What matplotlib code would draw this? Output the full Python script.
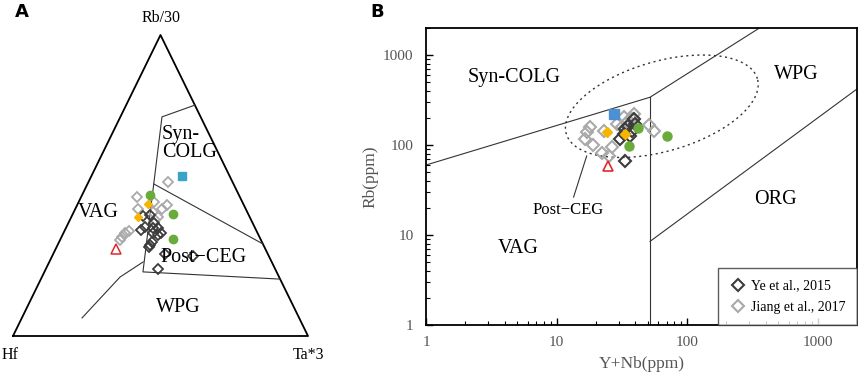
import numpy as np
import matplotlib.pyplot as plt
from matplotlib.lines import Line2D

plt.rcParams['font.family'] = ['Liberation Serif', 'DejaVu Serif']

# ---- panel A: Rb/30 - Hf - Ta*3 (percent) ----
ye_A_rb = [39.9, 40.2, 35.2, 36.2, 35.9, 35.9, 34.2, 33.6, 31.2, 30.2, 29.6, 27.2, 26.6, 22.3, 37.5, 34.2]
ye_A_ta = [24.2, 26.3, 25.8, 26.6, 29.6, 31.3, 30.4, 32.4, 31.5, 31.3, 31.3, 37.9, 47.7, 38.1, 29.0, 33.1]
ye_A_hf = [35.9, 33.5, 39.0, 37.2, 34.5, 32.8, 35.4, 34.0, 37.3, 38.5, 39.1, 34.9, 25.7, 39.6, 33.5, 32.7]

jiang_A_rb = [51.2, 46.2, 44.5, 43.5, 42.2, 42.2, 41.2, 39.5, 38.5, 34.9, 34.2, 32.9, 31.9]
jiang_A_ta = [26.9, 18.9, 25.5, 30.4, 29.4, 21.3, 26.9, 29.4, 28.8, 21.9, 20.9, 20.5, 20.4]
jiang_A_hf = [21.9, 34.9, 30.0, 26.1, 28.4, 36.5, 31.9, 31.1, 32.7, 43.2, 44.9, 46.6, 47.7]

green_A_rb = [46.8, 40.5, 32.2]
green_A_ta = [23.0, 33.9, 38.1]
green_A_hf = [30.2, 25.6, 29.7]

yellow_A_rb = [43.9, 39.5]
yellow_A_ta = [23.9, 22.6]
yellow_A_hf = [32.2, 37.9]

blue_A_rb, blue_A_ta, blue_A_hf = [53.2], [30.7], [16.1]
red_A_rb, red_A_ta, red_A_hf = [28.9], [20.4], [50.7]

# field boundaries (Rb, Ta, Hf)
bound_A = [
    [(76.7, 23.3, 0.0), (72.8, 14.1, 13.1), (21.3, 33.4, 45.3), (18.9, 81.1, 0.0)],
    [(50.5, 22.5, 27.0), (30.6, 69.4, 0.0)],
    [(6.0, 20.4, 73.6), (19.6, 26.5, 53.9), (24.6, 31.8, 43.6)],
]

# ---- panel B: Rb vs Y+Nb (ppm) ----
ye_B_x = [33.3, 30.5, 36.4, 39.8, 37.8, 32.7, 35.0, 39.0, 33.3]
ye_B_y = [151, 117, 126, 171, 143, 133, 163, 194, 66]

jiang_B_x = [17.9, 17.0, 16.4, 18.9, 23.0, 22.2, 26.5, 25.1, 51.0, 55.7, 32.7, 39.1, 34.5, 28.9, 37.8, 31.5]
jiang_B_y = [158, 139, 117, 100, 143, 81.5, 95, 75.5, 167, 143, 205, 221, 180, 171, 194, 158]

green_B_x, green_B_y = [42.0, 35.8, 70.0], [154, 97.5, 126]
yellow_B_x, yellow_B_y = [24.3, 33.3], [139, 133]
blue_B_x, blue_B_y = [27.4], [221]
red_B_x, red_B_y = [24.7], [58.4]

bound_B = [
    [(1, 60), (52, 340), (358, 2000)],
    [(52, 1), (52, 340)],
    [(52, 8.5), (2000, 420)],
]

DARK = '#3c3c3c'
LIGHT = '#a9a9a9'
GREEN = '#6aac3c'
YELLOW = '#f7b500'
RED = '#e02830'
GREY_TXT = '#555555'


def tern(rb, ta, hf):
    rb, ta, hf = np.asarray(rb, float), np.asarray(ta, float), np.asarray(hf, float)
    s = rb + ta + hf
    a, b = rb / s, ta / s
    return b + a / 2, a


fig = plt.figure(figsize=(8.58, 3.76), dpi=100)

# ---------------- A ----------------
axA = fig.add_axes([13 / 858, 40 / 376, 295 / 858, 301 / 376])
axA.set_xlim(0, 1)
axA.set_ylim(0, 1)
axA.axis('off')
axA.plot([0, 1, 0.5, 0], [0, 0, 1, 0], color='black', lw=1.3, clip_on=False)
for seg in bound_A:
    rb, ta, hf = zip(*seg)
    x, y = tern(rb, ta, hf)
    axA.plot(x, y, color='#333333', lw=0.8)

fs_lab = 14.5
axA.text(0.503, 1.057, 'Rb/30', ha='center', va='center', fontsize=11.5)
axA.text(-0.01, -0.063, 'Hf', ha='center', va='center', fontsize=11.5)
axA.text(1.0, -0.063, 'Ta*3', ha='center', va='center', fontsize=11.5)
axA.text(0.505, 0.64, 'Syn-\nCOLG', ha='left', va='center', fontsize=fs_lab, linespacing=0.95)
axA.text(0.29, 0.41, 'VAG', ha='center', va='center', fontsize=fs_lab)
axA.text(0.645, 0.26, 'Post\u2212CEG', ha='center', va='center', fontsize=fs_lab)
axA.text(0.56, 0.095, 'WPG', ha='center', va='center', fontsize=fs_lab)

ms = 5.2
x, y = tern(jiang_A_rb, jiang_A_ta, jiang_A_hf)
axA.plot(x, y, 'D', ms=ms, mfc='none', mec=LIGHT, mew=1.3, ls='none')
x, y = tern(ye_A_rb, ye_A_ta, ye_A_hf)
axA.plot(x, y, 'D', ms=ms, mfc='none', mec=DARK, mew=1.3, ls='none')
x, y = tern(green_A_rb, green_A_ta, green_A_hf)
axA.plot(x, y, 'o', ms=6, color=GREEN, ls='none')
x, y = tern(yellow_A_rb, yellow_A_ta, yellow_A_hf)
axA.plot(x, y, 'D', ms=4.5, color=YELLOW, ls='none')
x, y = tern(blue_A_rb, blue_A_ta, blue_A_hf)
axA.plot(x, y, 's', ms=6, color='#3aa3c8', ls='none')
x, y = tern(red_A_rb, red_A_ta, red_A_hf)
axA.plot(x, y, '^', ms=7, mfc='none', mec=RED, mew=1.1, ls='none')

fig.text(15 / 858, 1 - 12 / 376, 'A', fontsize=13, fontweight='bold',
         family='DejaVu Sans', ha='left', va='center')

# ---------------- B ----------------
axB = fig.add_axes([426 / 858, 51 / 376, 431 / 858, 297 / 376])
axB.set_xscale('log')
axB.set_yscale('log')
axB.set_xlim(1, 2000)
axB.set_ylim(1, 2000)

for seg in bound_B:
    xs, ys = zip(*seg)
    axB.plot(xs, ys, color='#333333', lw=0.8)

# post-collisional field (dashed ellipse in log space)
t = np.linspace(0, 2 * np.pi, 300)
cx, cy = np.log10(64), np.log10(270)
ex = cx + 0.732 * np.cos(t) - 0.096 * np.sin(t)
ey = cy + 0.306 * np.cos(t) + 0.480 * np.sin(t)
axB.plot(10 ** ex, 10 ** ey, color='#333333', lw=1.0, ls=(0, (1.5, 2.5)))

axB.plot(jiang_B_x, jiang_B_y, 'D', ms=6.5, mfc='none', mec=LIGHT, mew=1.5, ls='none')
axB.plot(ye_B_x, ye_B_y, 'D', ms=6.5, mfc='none', mec=DARK, mew=1.5, ls='none')
axB.plot(green_B_x, green_B_y, 'o', ms=6.5, color=GREEN, ls='none')
axB.plot(yellow_B_x, yellow_B_y, 'D', ms=5, color=YELLOW, ls='none')
axB.plot(blue_B_x, blue_B_y, 's', ms=6.5, color='#4b90d2', ls='none')
axB.plot(red_B_x, red_B_y, '^', ms=7.5, mfc='none', mec=RED, mew=1.2, ls='none')

axB.text(4.75, 570, 'Syn-COLG', ha='center', va='center', fontsize=fs_lab)
axB.text(680, 610, 'WPG', ha='center', va='center', fontsize=fs_lab)
axB.text(475, 25, 'ORG', ha='center', va='center', fontsize=fs_lab)
axB.text(5.1, 7, 'VAG', ha='center', va='center', fontsize=fs_lab)
axB.text(12.2, 19, 'Post\u2212CEG', ha='center', va='center', fontsize=12)
axB.plot([13.5, 17], [26.4, 75.5], color='#333333', lw=0.8)

for s in axB.spines.values():
    s.set_linewidth(1.3)
axB.tick_params(which='both', direction='in', labelsize=11, labelcolor=GREY_TXT)
axB.tick_params(which='major', length=5, width=1.0)
axB.tick_params(which='minor', length=3, width=0.8)
axB.set_xticks([1, 10, 100, 1000])
axB.set_xticklabels(['1', '10', '100', '1000'])
axB.set_yticks([1, 10, 100, 1000])
axB.set_yticklabels(['1', '10', '100', '1000'])
axB.tick_params(axis='x', pad=8)
axB.tick_params(axis='y', pad=9)
axB.set_xlabel('Y+Nb(ppm)', fontsize=12.5, color=GREY_TXT, labelpad=5)
axB.set_ylabel('Rb(ppm)', fontsize=12.5, color=GREY_TXT, labelpad=3)

handles = [
    Line2D([], [], marker='D', ms=6, mfc='none', mec=DARK, mew=1.5, ls='none'),
    Line2D([], [], marker='D', ms=6, mfc='none', mec=LIGHT, mew=1.5, ls='none'),
]
leg = axB.legend(handles, ['Ye et al., 2015', 'Jiang et al., 2017'], loc='lower right',
                 fontsize=10, frameon=True, fancybox=False, borderaxespad=0,
                 handletextpad=0.4, borderpad=0.8, labelspacing=0.6, handlelength=1.2)
leg.get_frame().set_edgecolor('#333333')
leg.get_frame().set_linewidth(1.0)

fig.text(370 / 858, 1 - 12 / 376, 'B', fontsize=13, fontweight='bold',
         family='DejaVu Sans', ha='left', va='center')

fig.savefig('out.png', dpi=100)
